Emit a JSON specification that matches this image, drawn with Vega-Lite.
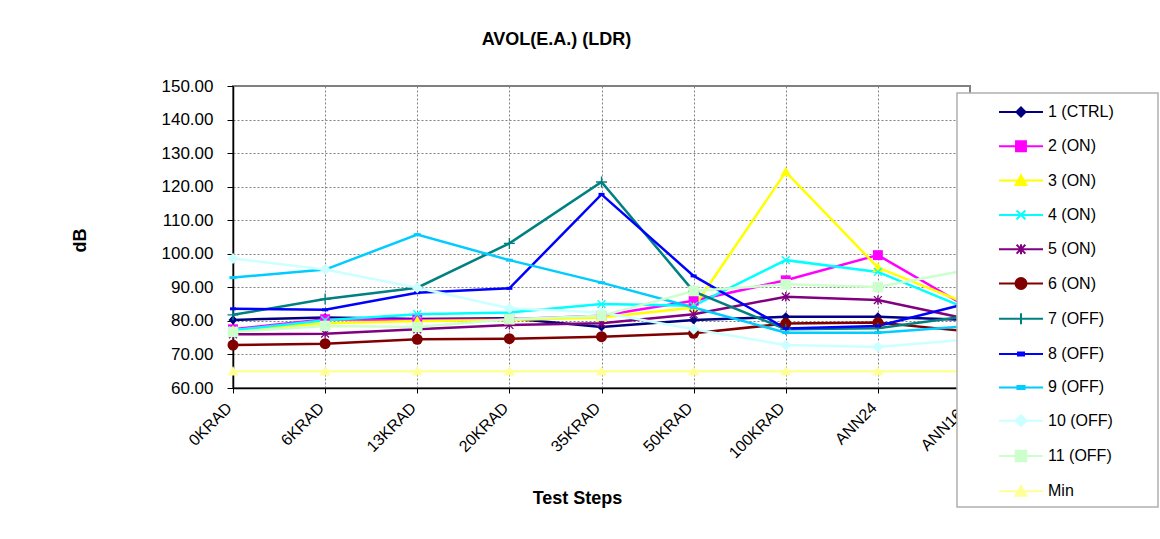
{
  "$schema": "https://vega.github.io/schema/vega-lite/v6.json",
  "autosize": {"type": "none"},
  "padding": {"left": 233, "top": 86, "right": 190, "bottom": 151},
  "width": 737,
  "height": 302,
  "background": "white",
  "config": {
    "font": "Liberation Sans",
    "view": {"stroke": "#808080", "strokeWidth": 2}
  },
  "title": {
    "text": "AVOL(E.A.) (LDR)",
    "frame": "group",
    "anchor": "middle",
    "dx": -45,
    "offset": 14,
    "baseline": "alphabetic",
    "fontSize": 18,
    "fontWeight": "bold",
    "color": "black"
  },
  "data": {
    "values": [
      {"s": "1 (CTRL)", "t": "0KRAD", "v": 80.3}, {"s": "1 (CTRL)", "t": "6KRAD", "v": 81.0}, {"s": "1 (CTRL)", "t": "13KRAD", "v": 80.6}, {"s": "1 (CTRL)", "t": "20KRAD", "v": 80.8}, {"s": "1 (CTRL)", "t": "35KRAD", "v": 78.2}, {"s": "1 (CTRL)", "t": "50KRAD", "v": 80.3}, {"s": "1 (CTRL)", "t": "100KRAD", "v": 81.2}, {"s": "1 (CTRL)", "t": "ANN24", "v": 81.2}, {"s": "1 (CTRL)", "t": "ANN168", "v": 80.3},
      {"s": "2 (ON)", "t": "0KRAD", "v": 77.5}, {"s": "2 (ON)", "t": "6KRAD", "v": 80.5}, {"s": "2 (ON)", "t": "13KRAD", "v": 80.3}, {"s": "2 (ON)", "t": "20KRAD", "v": 80.5}, {"s": "2 (ON)", "t": "35KRAD", "v": 81.5}, {"s": "2 (ON)", "t": "50KRAD", "v": 86.0}, {"s": "2 (ON)", "t": "100KRAD", "v": 92.1}, {"s": "2 (ON)", "t": "ANN24", "v": 99.6}, {"s": "2 (ON)", "t": "ANN168", "v": 83.7},
      {"s": "3 (ON)", "t": "0KRAD", "v": 77.2}, {"s": "3 (ON)", "t": "6KRAD", "v": 79.3}, {"s": "3 (ON)", "t": "13KRAD", "v": 80.0}, {"s": "3 (ON)", "t": "20KRAD", "v": 80.3}, {"s": "3 (ON)", "t": "35KRAD", "v": 81.0}, {"s": "3 (ON)", "t": "50KRAD", "v": 84.0}, {"s": "3 (ON)", "t": "100KRAD", "v": 124.4}, {"s": "3 (ON)", "t": "ANN24", "v": 95.9}, {"s": "3 (ON)", "t": "ANN168", "v": 84.8},
      {"s": "4 (ON)", "t": "0KRAD", "v": 77.2}, {"s": "4 (ON)", "t": "6KRAD", "v": 80.2}, {"s": "4 (ON)", "t": "13KRAD", "v": 82.0}, {"s": "4 (ON)", "t": "20KRAD", "v": 82.5}, {"s": "4 (ON)", "t": "35KRAD", "v": 85.0}, {"s": "4 (ON)", "t": "50KRAD", "v": 84.5}, {"s": "4 (ON)", "t": "100KRAD", "v": 98.1}, {"s": "4 (ON)", "t": "ANN24", "v": 94.6}, {"s": "4 (ON)", "t": "ANN168", "v": 83.3},
      {"s": "5 (ON)", "t": "0KRAD", "v": 76.0}, {"s": "5 (ON)", "t": "6KRAD", "v": 76.2}, {"s": "5 (ON)", "t": "13KRAD", "v": 77.5}, {"s": "5 (ON)", "t": "20KRAD", "v": 78.8}, {"s": "5 (ON)", "t": "35KRAD", "v": 79.3}, {"s": "5 (ON)", "t": "50KRAD", "v": 82.0}, {"s": "5 (ON)", "t": "100KRAD", "v": 87.2}, {"s": "5 (ON)", "t": "ANN24", "v": 86.2}, {"s": "5 (ON)", "t": "ANN168", "v": 80.4},
      {"s": "6 (ON)", "t": "0KRAD", "v": 72.8}, {"s": "6 (ON)", "t": "6KRAD", "v": 73.2}, {"s": "6 (ON)", "t": "13KRAD", "v": 74.5}, {"s": "6 (ON)", "t": "20KRAD", "v": 74.7}, {"s": "6 (ON)", "t": "35KRAD", "v": 75.3}, {"s": "6 (ON)", "t": "50KRAD", "v": 76.3}, {"s": "6 (ON)", "t": "100KRAD", "v": 79.2}, {"s": "6 (ON)", "t": "ANN24", "v": 79.5}, {"s": "6 (ON)", "t": "ANN168", "v": 76.8},
      {"s": "7 (OFF)", "t": "0KRAD", "v": 81.8}, {"s": "7 (OFF)", "t": "6KRAD", "v": 86.5}, {"s": "7 (OFF)", "t": "13KRAD", "v": 89.9}, {"s": "7 (OFF)", "t": "20KRAD", "v": 103.1}, {"s": "7 (OFF)", "t": "35KRAD", "v": 121.4}, {"s": "7 (OFF)", "t": "50KRAD", "v": 88.8}, {"s": "7 (OFF)", "t": "100KRAD", "v": 77.5}, {"s": "7 (OFF)", "t": "ANN24", "v": 77.8}, {"s": "7 (OFF)", "t": "ANN168", "v": 81.5},
      {"s": "8 (OFF)", "t": "0KRAD", "v": 83.6}, {"s": "8 (OFF)", "t": "6KRAD", "v": 83.3}, {"s": "8 (OFF)", "t": "13KRAD", "v": 88.4}, {"s": "8 (OFF)", "t": "20KRAD", "v": 89.7}, {"s": "8 (OFF)", "t": "35KRAD", "v": 117.7}, {"s": "8 (OFF)", "t": "50KRAD", "v": 93.4}, {"s": "8 (OFF)", "t": "100KRAD", "v": 77.7}, {"s": "8 (OFF)", "t": "ANN24", "v": 78.5}, {"s": "8 (OFF)", "t": "ANN168", "v": 85.4},
      {"s": "9 (OFF)", "t": "0KRAD", "v": 92.9}, {"s": "9 (OFF)", "t": "6KRAD", "v": 95.3}, {"s": "9 (OFF)", "t": "13KRAD", "v": 105.7}, {"s": "9 (OFF)", "t": "20KRAD", "v": 98.1}, {"s": "9 (OFF)", "t": "35KRAD", "v": 91.4}, {"s": "9 (OFF)", "t": "50KRAD", "v": 84.0}, {"s": "9 (OFF)", "t": "100KRAD", "v": 76.5}, {"s": "9 (OFF)", "t": "ANN24", "v": 76.5}, {"s": "9 (OFF)", "t": "ANN168", "v": 78.5},
      {"s": "10 (OFF)", "t": "0KRAD", "v": 98.6}, {"s": "10 (OFF)", "t": "6KRAD", "v": 95.3}, {"s": "10 (OFF)", "t": "13KRAD", "v": 89.9}, {"s": "10 (OFF)", "t": "20KRAD", "v": 83.8}, {"s": "10 (OFF)", "t": "35KRAD", "v": 82.5}, {"s": "10 (OFF)", "t": "50KRAD", "v": 77.5}, {"s": "10 (OFF)", "t": "100KRAD", "v": 72.8}, {"s": "10 (OFF)", "t": "ANN24", "v": 72.2}, {"s": "10 (OFF)", "t": "ANN168", "v": 74.5},
      {"s": "11 (OFF)", "t": "0KRAD", "v": 76.7}, {"s": "11 (OFF)", "t": "6KRAD", "v": 78.5}, {"s": "11 (OFF)", "t": "13KRAD", "v": 78.2}, {"s": "11 (OFF)", "t": "20KRAD", "v": 80.5}, {"s": "11 (OFF)", "t": "35KRAD", "v": 81.5}, {"s": "11 (OFF)", "t": "50KRAD", "v": 88.9}, {"s": "11 (OFF)", "t": "100KRAD", "v": 90.9}, {"s": "11 (OFF)", "t": "ANN24", "v": 90.1}, {"s": "11 (OFF)", "t": "ANN168", "v": 95.3},
      {"s": "Min", "t": "0KRAD", "v": 65}, {"s": "Min", "t": "6KRAD", "v": 65}, {"s": "Min", "t": "13KRAD", "v": 65}, {"s": "Min", "t": "20KRAD", "v": 65}, {"s": "Min", "t": "35KRAD", "v": 65}, {"s": "Min", "t": "50KRAD", "v": 65}, {"s": "Min", "t": "100KRAD", "v": 65}, {"s": "Min", "t": "ANN24", "v": 65}, {"s": "Min", "t": "ANN168", "v": 65}
    ]
  },
  "encoding": {
    "x": {
      "field": "t",
      "type": "ordinal",
      "sort": null,
      "scale": {"type": "point", "padding": 0, "domain": ["0KRAD", "6KRAD", "13KRAD", "20KRAD", "35KRAD", "50KRAD", "100KRAD", "ANN24", "ANN168"]},
      "axis": {
        "title": "Test Steps",
        "titleFontSize": 18,
        "titleFontWeight": "bold",
        "titleColor": "black",
        "titleX": 344,
        "titleY": 115,
        "titleAlign": "center",
        "titleBaseline": "alphabetic",
        "labelAngle": -45,
        "labelAlign": "right",
        "labelBaseline": "middle",
        "labelFontSize": 16,
        "labelColor": "black",
        "labelPadding": 12,
        "labelOffset": -4,
        "tickSize": 5,
        "tickColor": "black",
        "domainColor": "black",
        "domainWidth": 1.5,
        "grid": true,
        "gridColor": "#808080",
        "gridDash": [2, 2],
        "gridWidth": 1
      }
    },
    "y": {
      "field": "v",
      "type": "quantitative",
      "scale": {"domain": [60, 150], "zero": false, "nice": false},
      "axis": {
        "title": "dB",
        "titleFontSize": 18,
        "titleFontWeight": "bold",
        "titleColor": "black",
        "titleX": -153,
        "titleY": 154,
        "titleAngle": -90,
        "titleAlign": "center",
        "titleBaseline": "middle",
        "values": [60, 70, 80, 90, 100, 110, 120, 130, 140, 150],
        "format": ".2f",
        "labelFontSize": 17,
        "labelColor": "black",
        "labelPadding": 14,
        "tickSize": 6,
        "tickColor": "black",
        "domainColor": "black",
        "domainWidth": 1.5,
        "grid": true,
        "gridColor": "#808080",
        "gridDash": [2, 2],
        "gridWidth": 1
      }
    },
    "color": {
      "field": "s",
      "type": "nominal",
      "scale": {
        "domain": ["1 (CTRL)", "2 (ON)", "3 (ON)", "4 (ON)", "5 (ON)", "6 (ON)", "7 (OFF)", "8 (OFF)", "9 (OFF)", "10 (OFF)", "11 (OFF)", "Min"],
        "range": ["#000080", "#FF00FF", "#FFFF00", "#00FFFF", "#800080", "#800000", "#008080", "#0000FF", "#00CCFF", "#CCFFFF", "#CCFFCC", "#FFFF99"]
      },
      "legend": {
        "title": null,
        "orient": "none",
        "legendX": 724,
        "legendY": 7,
        "padding": 7,
        "fillColor": "white",
        "strokeColor": "#B0B0B0",
        "symbolSize": 484,
        "symbolStrokeWidth": 2,
        "labelFontSize": 16,
        "labelColor": "black",
        "labelOffset": 60,
        "rowPadding": 13.3,
        "labelLimit": 200,
        "encode": {
          "legend": {
            "update": {
              "strokeWidth": {"value": 1.5}
            }
          },
          "symbols": {
            "update": {
              "shape": {"signal": "datum.value==='1 (CTRL)'?'M15.5,0M2.09,0H6.09M4.09,-0.41L4.5,0L4.09,0.41L3.68,0Z':datum.value==='2 (ON)'?'M15.5,0M2.09,0H6.09M3.64,-0.45H4.54V0.45H3.64Z':datum.value==='3 (ON)'?'M15.5,0M2.09,0H6.09M4.09,-0.475L4.59,0.4H3.59Z':datum.value==='4 (ON)'?'M15.5,0M2.09,0H6.09M3.69,-0.4L4.49,0.4M3.69,0.4L4.49,-0.4':datum.value==='5 (ON)'?'M15.5,0M2.09,0H6.09M3.69,-0.4L4.49,0.4M3.69,0.4L4.49,-0.4M4.09,-0.45V0.45':datum.value==='6 (ON)'?'M15.5,0M2.09,0H6.09M3.59,0A0.5,0.5,0,1,1,4.59,0A0.5,0.5,0,1,1,3.59,0Z':datum.value==='7 (OFF)'?'M15.5,0M2.09,0H6.09M4.09,-0.5V0.5':datum.value==='8 (OFF)'?'M15.5,0M2.09,0H6.09M3.815,-0.135H4.365V0.135H3.815Z':datum.value==='9 (OFF)'?'M15.5,0M2.09,0H6.09M3.765,-0.135H4.415V0.135H3.765Z':datum.value==='10 (OFF)'?'M15.5,0M2.09,0H6.09M4.09,-0.5L4.59,0L4.09,0.5L3.59,0Z':datum.value==='11 (OFF)'?'M15.5,0M2.09,0H6.09M3.615,-0.475H4.565V0.475H3.615Z':'M15.5,0M2.09,0H6.09M4.09,-0.475L4.59,0.4H3.59Z'"},
              "fill": {"scale": "color", "field": "value"},
              "stroke": {"scale": "color", "field": "value"},
              "strokeWidth": {"value": 2},
              "size": {"value": 484},
              "opacity": {"value": 1},
              "fillOpacity": {"value": 1},
              "strokeOpacity": {"value": 1}
            }
          }
        }
      }
    }
  },
  "layer": [
    {
      "mark": {"type": "line", "strokeWidth": 2.5}
    },
    {
      "mark": {"type": "point", "filled": true, "opacity": 1, "size": 121},
      "encoding": {
        "shape": {
          "field": "s",
          "type": "nominal",
          "legend": null,
          "scale": {
            "domain": ["Min", "11 (OFF)", "10 (OFF)", "9 (OFF)", "8 (OFF)", "7 (OFF)", "6 (ON)", "5 (ON)", "4 (ON)", "3 (ON)", "2 (ON)", "1 (CTRL)"],
            "range": [
              "M0,-0.95L1,0.8H-1Z",
              "M-0.95,-0.95H0.95V0.95H-0.95Z",
              "M0,-1L1,0L0,1L-1,0Z",
              "M-0.65,-0.27H0.65V0.27H-0.65Z",
              "M-0.55,-0.27H0.55V0.27H-0.55Z",
              "M-0.12,-1H0.12V-0.12H1V0.12H0.12V1H-0.12V0.12H-1V-0.12H-0.12Z",
              "circle",
              "M-0.8,-0.63L-0.63,-0.8L0,-0.17L0.63,-0.8L0.8,-0.63L0.17,0L0.8,0.63L0.63,0.8L0,0.17L-0.63,0.8L-0.8,0.63L-0.17,0ZM-0.12,-0.85H0.12V0.85H-0.12Z",
              "M-0.8,-0.63L-0.63,-0.8L0,-0.17L0.63,-0.8L0.8,-0.63L0.17,0L0.8,0.63L0.63,0.8L0,0.17L-0.63,0.8L-0.8,0.63L-0.17,0Z",
              "M0,-0.95L1,0.8H-1Z",
              "M-0.9,-0.9H0.9V0.9H-0.9Z",
              "M0,-0.82L0.82,0L0,0.82L-0.82,0Z"
            ]
          }
        }
      }
    }
  ]
}
